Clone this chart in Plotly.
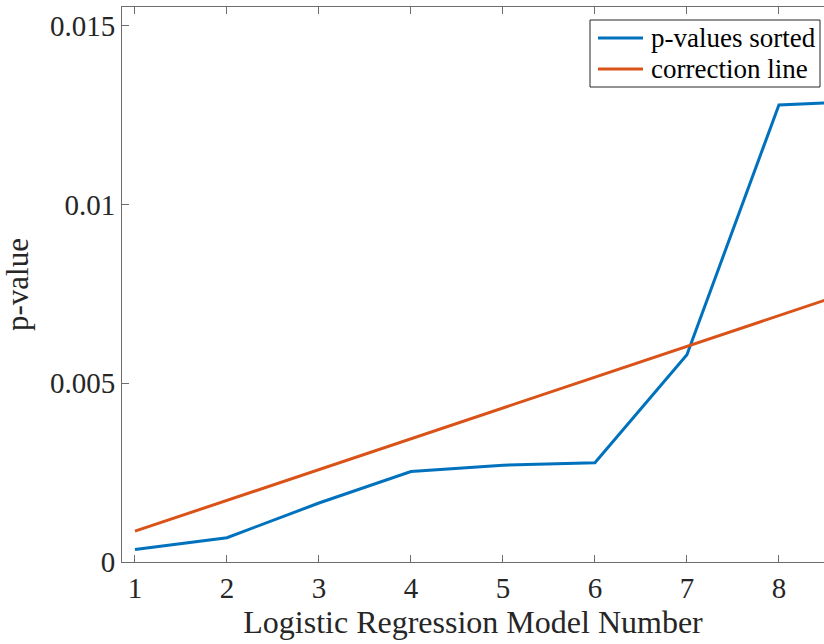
import plotly.graph_objects as go

# Model index (1..9) and the sorted p-values of each logistic regression model
model_number = [1, 2, 3, 4, 5, 6, 7, 8, 9]
p_sorted = [0.00035, 0.00068, 0.00165, 0.00253, 0.00271, 0.00278, 0.0058, 0.01279, 0.0129]
# Benjamini-Hochberg style correction line: k * alpha / m
correction = [0.000862, 0.001724, 0.002586, 0.003448, 0.00431, 0.005172, 0.006034, 0.006896, 0.007758]

series_names = ["p-values sorted", "correction line"]
series_colors = ["#0072BD", "#D95319"]

y_tick_vals = [0, 0.005, 0.01, 0.015]
y_tick_text = ["0", "0.005", "0.01", "0.015"]
x_tick_vals = [1, 2, 3, 4, 5, 6, 7, 8, 9]

FONT = "Liberation Serif"
TEXT = "#262626"
AXIS = "#6e6e6e"

W, H = 824, 644
ML, MR, MT, MB = 122, 0, 7, 82
PW, PH = W - ML - MR, H - MT - MB


def px_x(px):
    return (px - ML) / PW


def px_y(py):
    return 1 - (py - MT) / PH


fig = go.Figure()
for name, ys, col in zip(series_names, [p_sorted, correction], series_colors):
    fig.add_trace(go.Scatter(x=model_number, y=ys, mode="lines", name=name,
                             line=dict(color=col, width=3), showlegend=False))

# Compact boxed legend in the upper right corner
shapes = [dict(type="rect", xref="paper", yref="paper",
               x0=px_x(590), x1=px_x(820), y0=px_y(87), y1=px_y(20),
               line=dict(color=TEXT, width=1), fillcolor="white", layer="above")]
annotations = []
for i, (name, col) in enumerate(zip(series_names, series_colors)):
    yc = 38 + i * 31
    shapes.append(dict(type="line", xref="paper", yref="paper",
                       x0=px_x(598), x1=px_x(643), y0=px_y(yc), y1=px_y(yc),
                       line=dict(color=col, width=3), layer="above"))
    annotations.append(dict(xref="paper", yref="paper", x=px_x(649), y=px_y(yc),
                            xanchor="left", yanchor="middle", showarrow=False,
                            text=name, font=dict(family=FONT, size=27, color="black")))

fig.update_layout(
    width=W, height=H,
    margin=dict(l=ML, r=MR, t=MT, b=MB),
    paper_bgcolor="white", plot_bgcolor="white",
    font=dict(family=FONT, color=TEXT, size=29),
    showlegend=False,
    shapes=shapes, annotations=annotations,
    xaxis=dict(range=[0.859, 8.49], tickmode="array", tickvals=x_tick_vals,
               showgrid=False, zeroline=False, showline=True, linecolor=AXIS, linewidth=1,
               mirror="ticks", ticks="inside", ticklen=7, tickcolor=AXIS,
               tickfont=dict(family=FONT, size=29, color=TEXT),
               title=dict(text="Logistic Regression Model Number",
                          font=dict(family=FONT, size=32, color=TEXT), standoff=6)),
    yaxis=dict(range=[0, 0.01553], tickmode="array", tickvals=y_tick_vals, ticktext=y_tick_text,
               showgrid=False, zeroline=False, showline=True, linecolor=AXIS, linewidth=1,
               mirror=False, ticks="inside", ticklen=7, tickcolor=AXIS,
               tickfont=dict(family=FONT, size=29, color=TEXT),
               title=dict(text="p-value", font=dict(family=FONT, size=31, color=TEXT), standoff=12)),
)

fig.write_html("out.html")
